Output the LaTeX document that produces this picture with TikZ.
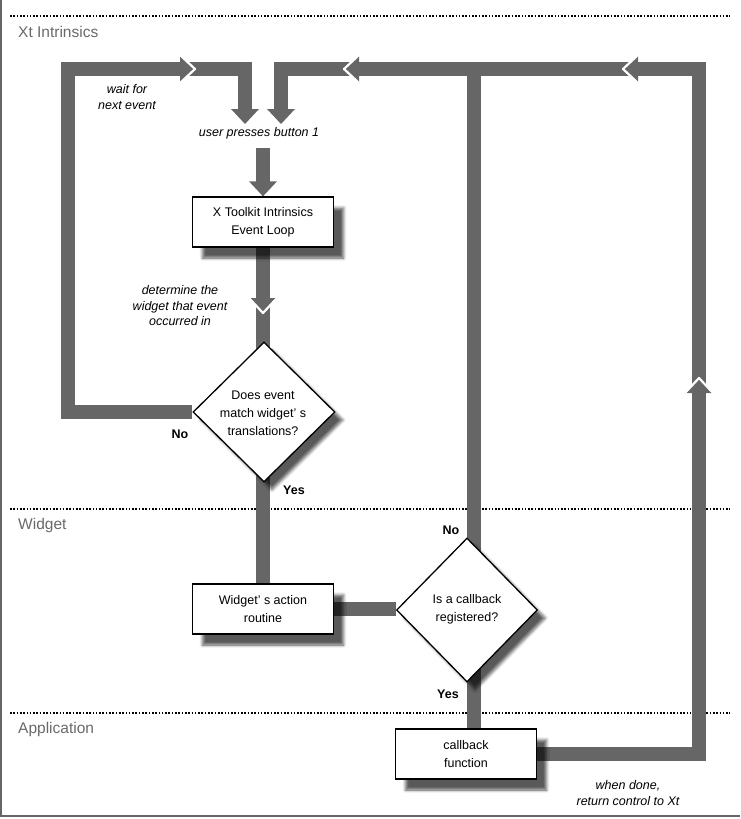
\documentclass[tikz,border=0pt]{standalone}
\usepackage{fontspec}
\setmainfont{Liberation Sans}
\usetikzlibrary{shapes.geometric,shadows.blur,calc}
\pgfdeclarelayer{bg}
\pgfsetlayers{bg,main}
\definecolor{flow}{RGB}{102,102,102}
\definecolor{lbl}{RGB}{105,105,105}
\tikzset{
  flowline/.style={draw=flow, line width=14pt, line join=miter},
  box/.style={draw=black, line width=1.3pt, fill=white, minimum width=141pt, minimum height=50pt, inner sep=0pt,
    blur shadow={shadow xshift=10pt, shadow yshift=-11pt, shadow blur radius=3pt, shadow opacity=65}},
  dia/.style={diamond, draw=black, line width=1.3pt, fill=white, inner sep=0pt, minimum width=142pt, minimum height=140pt,
    blur shadow={shadow xshift=8pt, shadow yshift=-8pt, shadow blur radius=3pt, shadow opacity=65}},
  txt/.style={font=\fontsize{12.5}{18}\selectfont, align=center, inner sep=0pt},
  itxt/.style={font=\fontsize{12.5}{15.5}\selectfont\itshape, align=center, inner sep=0pt},
  btxt/.style={font=\fontsize{12.5}{15}\selectfont\bfseries, inner sep=0pt},
  zone/.style={font=\fontsize{15.5}{18}\selectfont, text=lbl, anchor=west, inner sep=0pt},
  divider/.style={draw=black, line width=1.6pt, dash pattern=on 1.6pt off 1.7pt},
}
\newcommand\nhead[2]{\begin{scope}[shift={(#1)},rotate=#2]
  \fill[flow] (0,0) -- (-15,14) -- (-15,-14) -- cycle;
  \draw[white,line width=2.2pt,line join=round] (-15,14) -- (0,0) -- (-15,-14);
\end{scope}}
\newcommand\phead[2]{\begin{scope}[shift={(#1)},rotate=#2]
  \fill[flow] (0,0) -- (-15,14) -- (-15,-14) -- cycle;
\end{scope}}
\begin{document}
\begin{tikzpicture}[x=1pt,y=-1pt]
\useasboundingbox (0,0) rectangle (740,819);
% frame
\draw[draw=flow, line width=1.3pt] (1,0) -- (1,816) -- (740,816);

% zone labels
\node[zone] (zxt) at (18,32) {Xt Intrinsics};
\node[zone] (zwd) at (18,525) {Widget};
\node[zone] (zap) at (18,729) {Application};

% nodes
\node[box, txt] (box1) at (263,222) {X Toolkit Intrinsics\\Event Loop};
\node[dia] (dia1) at (264,412) {};
\node[txt] (dia1t) at (263,413) {Does event\\match widget' s\\translations?};
\node[box, txt] (box2) at (263,609) {Widget' s action\\routine};
\node[dia, minimum height=144pt, minimum width=141pt] (dia2) at (467,610) {};
\node[txt] (dia2t) at (467,609) {Is a callback\\registered?};
\node[box, txt] (cb) at (466,754) {callback\\function};

% text labels
\node[itxt] (wait) at (127,97) {wait for\\next event};
\node[itxt] (press) at (259,133) {user presses button 1};
\node[itxt] (det) at (180,306) {determine the\\widget that event\\occurred in};
\node[itxt] (done) at (628,793) {when done,\\return control to Xt};
\node[btxt] (no1) at (180,434) {No};
\node[btxt] (yes1) at (294,490) {Yes};
\node[btxt] (no2) at (451,530) {No};
\node[btxt] (yes2) at (448,694) {Yes};

% coordinates
\coordinate (tl) at (68,69);
\coordinate (tlj) at (245,69);
\coordinate (ha) at (245,110);
\coordinate (hat) at (245,124);
\coordinate (tr) at (699,69);
\coordinate (trj) at (281,69);
\coordinate (hb) at (281,110);
\coordinate (hbt) at (281,124);
\coordinate (jx) at (474,69);
\coordinate (m0) at (263,148);
\coordinate (n1) at (195,69);
\coordinate (n2) at (699,378);
\coordinate (n3) at (623,69);
\coordinate (n4) at (344,69);
\coordinate (n5) at (263,313);

\begin{pgfonlayer}{bg}
  \draw[divider] (10,16) -- (730,16);
  \draw[divider] (10,509) -- (730,509);
  \draw[divider] (10,713) -- (730,713);
  % flows
  \draw[flowline] (dia1.west) -- (dia1.west -| tl) -- (tl) -- (tlj) -- (ha);
  \draw[flowline] (cb.east) -- (cb.east -| tr) -- (tr) -- (trj) -- (hb);
  \draw[flowline] (cb.north -| jx) -- (jx);
  \draw[flowline] (m0) -- ($(box1.north)+(0,-14)$);
  \draw[flowline] (box1.south) -- (box2.north);
  \draw[flowline] (box2.east) -- (box2.east -| dia2.west);
  % heads
  \nhead{n1}{0}
  \nhead{n2}{90}
  \nhead{n3}{180}
  \nhead{n4}{180}
  \nhead{n5}{-90}
  \phead{hat}{-90}
  \phead{hbt}{-90}
  \phead{box1.north}{-90}
\end{pgfonlayer}
\end{tikzpicture}
\end{document}
